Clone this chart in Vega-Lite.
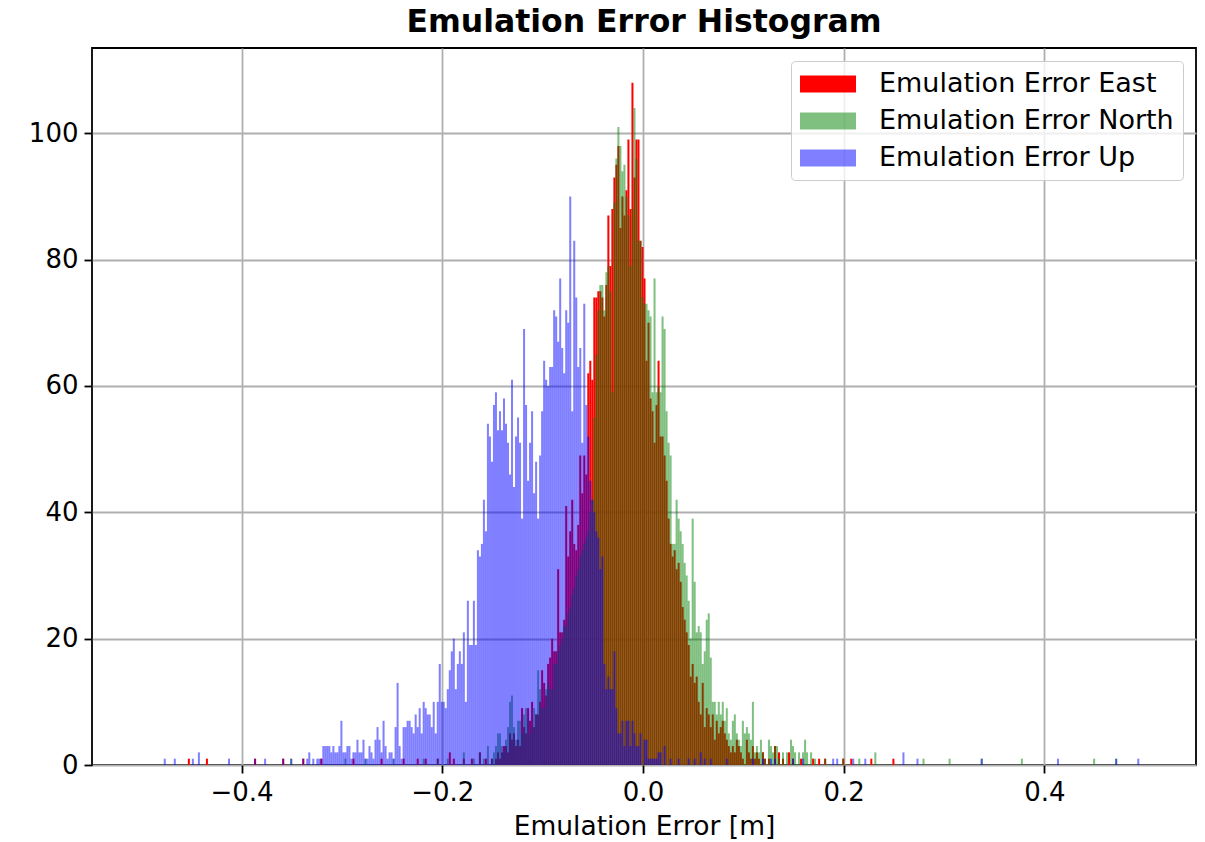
{
"$schema": "https://vega.github.io/schema/vega-lite/v6.json",
"width": 1104,
"height": 717,
"autosize": {"type": "none"},
"padding": {"left": 92, "top": 48, "right": 9, "bottom": 77},
"background": "white",
"title": {"text": "Emulation Error Histogram", "font": "DejaVu Sans", "fontSize": 31.5, "fontWeight": "bold", "color": "black", "anchor": "middle", "frame": "group", "offset": 10},
"data": {"values": [
{"series":"East","error":-0.454,"count":1},{"series":"East","error":-0.436,"count":1},{"series":"East","error":-0.388,"count":1},{"series":"East","error":-0.36,"count":1},{"series":"East","error":-0.34,"count":1},{"series":"East","error":-0.322,"count":1},{"series":"East","error":-0.29,"count":1},{"series":"East","error":-0.262,"count":1},{"series":"East","error":-0.24,"count":1},{"series":"East","error":-0.226,"count":1},{"series":"East","error":-0.218,"count":1},{"series":"East","error":-0.206,"count":1},{"series":"East","error":-0.194,"count":2},{"series":"East","error":-0.19,"count":1},{"series":"East","error":-0.18,"count":1},{"series":"East","error":-0.172,"count":1},{"series":"East","error":-0.164,"count":2},{"series":"East","error":-0.158,"count":1},
{"series":"East","error":-0.152,"count":1},{"series":"East","error":-0.148,"count":1},{"series":"East","error":-0.146,"count":2},{"series":"East","error":-0.144,"count":1},{"series":"East","error":-0.142,"count":2},{"series":"East","error":-0.14,"count":3},{"series":"East","error":-0.138,"count":3},{"series":"East","error":-0.136,"count":2},{"series":"East","error":-0.134,"count":5},{"series":"East","error":-0.132,"count":4},{"series":"East","error":-0.13,"count":5},{"series":"East","error":-0.128,"count":3},{"series":"East","error":-0.126,"count":4},{"series":"East","error":-0.124,"count":3},{"series":"East","error":-0.122,"count":9},{"series":"East","error":-0.12,"count":6},{"series":"East","error":-0.118,"count":5},{"series":"East","error":-0.116,"count":9},{"series":"East","error":-0.114,"count":7},{"series":"East","error":-0.112,"count":10},{"series":"East","error":-0.11,"count":6},{"series":"East","error":-0.108,"count":8},{"series":"East","error":-0.106,"count":8},{"series":"East","error":-0.104,"count":10},{"series":"East","error":-0.102,"count":15},{"series":"East","error":-0.1,"count":13},{"series":"East","error":-0.098,"count":11},{"series":"East","error":-0.096,"count":16},{"series":"East","error":-0.094,"count":17},{"series":"East","error":-0.092,"count":20},{"series":"East","error":-0.09,"count":18},{"series":"East","error":-0.088,"count":18},{"series":"East","error":-0.086,"count":31},{"series":"East","error":-0.084,"count":21},{"series":"East","error":-0.082,"count":21},{"series":"East","error":-0.08,"count":23},{"series":"East","error":-0.078,"count":41},{"series":"East","error":-0.076,"count":33},{"series":"East","error":-0.074,"count":37},{"series":"East","error":-0.072,"count":42},{"series":"East","error":-0.07,"count":35},{"series":"East","error":-0.068,"count":34},{"series":"East","error":-0.066,"count":38},{"series":"East","error":-0.064,"count":49},{"series":"East","error":-0.062,"count":43},{"series":"East","error":-0.06,"count":49},{"series":"East","error":-0.058,"count":46},{"series":"East","error":-0.056,"count":62},{"series":"East","error":-0.054,"count":64},{"series":"East","error":-0.052,"count":61},{"series":"East","error":-0.05,"count":74},{"series":"East","error":-0.048,"count":74},{"series":"East","error":-0.046,"count":75},{"series":"East","error":-0.044,"count":75},{"series":"East","error":-0.042,"count":74},{"series":"East","error":-0.04,"count":71},{"series":"East","error":-0.038,"count":76},{"series":"East","error":-0.036,"count":87},{"series":"East","error":-0.034,"count":79},{"series":"East","error":-0.032,"count":88},{"series":"East","error":-0.03,"count":93},{"series":"East","error":-0.028,"count":95},{"series":"East","error":-0.026,"count":98},{"series":"East","error":-0.024,"count":85},{"series":"East","error":-0.022,"count":90},{"series":"East","error":-0.02,"count":87},{"series":"East","error":-0.018,"count":91},{"series":"East","error":-0.016,"count":99},{"series":"East","error":-0.014,"count":88},{"series":"East","error":-0.012,"count":108},{"series":"East","error":-0.01,"count":93},{"series":"East","error":-0.008,"count":99},{"series":"East","error":-0.006,"count":99},{"series":"East","error":-0.004,"count":83},{"series":"East","error":-0.002,"count":82},{"series":"East","error":0,"count":77},{"series":"East","error":0.002,"count":64},{"series":"East","error":0.004,"count":70},{"series":"East","error":0.006,"count":58},{"series":"East","error":0.008,"count":56},{"series":"East","error":0.01,"count":51},{"series":"East","error":0.012,"count":57},{"series":"East","error":0.014,"count":64},{"series":"East","error":0.016,"count":52},{"series":"East","error":0.018,"count":52},{"series":"East","error":0.02,"count":49},{"series":"East","error":0.022,"count":45},{"series":"East","error":0.024,"count":39},{"series":"East","error":0.026,"count":35},{"series":"East","error":0.028,"count":33},{"series":"East","error":0.03,"count":34},{"series":"East","error":0.032,"count":31},{"series":"East","error":0.034,"count":32},{"series":"East","error":0.036,"count":29},{"series":"East","error":0.038,"count":25},{"series":"East","error":0.04,"count":23},{"series":"East","error":0.042,"count":21},{"series":"East","error":0.044,"count":19},{"series":"East","error":0.046,"count":14},{"series":"East","error":0.048,"count":16},{"series":"East","error":0.05,"count":13},{"series":"East","error":0.052,"count":14},{"series":"East","error":0.054,"count":10},{"series":"East","error":0.056,"count":8},{"series":"East","error":0.058,"count":13},{"series":"East","error":0.06,"count":6},{"series":"East","error":0.062,"count":9},{"series":"East","error":0.064,"count":8},{"series":"East","error":0.066,"count":6},{"series":"East","error":0.068,"count":8},{"series":"East","error":0.07,"count":4},{"series":"East","error":0.072,"count":7},{"series":"East","error":0.074,"count":5},{"series":"East","error":0.076,"count":6},{"series":"East","error":0.078,"count":7},{"series":"East","error":0.08,"count":5},{"series":"East","error":0.082,"count":4},{"series":"East","error":0.084,"count":3},{"series":"East","error":0.086,"count":2},{"series":"East","error":0.088,"count":3},{"series":"East","error":0.09,"count":2},{"series":"East","error":0.092,"count":4},{"series":"East","error":0.094,"count":3},{"series":"East","error":0.096,"count":2},{"series":"East","error":0.098,"count":1},{"series":"East","error":0.102,"count":4},{"series":"East","error":0.104,"count":2},{"series":"East","error":0.106,"count":1},{"series":"East","error":0.108,"count":3},{"series":"East","error":0.11,"count":1},{"series":"East","error":0.112,"count":2},{"series":"East","error":0.114,"count":1},{"series":"East","error":0.118,"count":2},{"series":"East","error":0.12,"count":1},{"series":"East","error":0.124,"count":1},{"series":"East","error":0.13,"count":3},{"series":"East","error":0.134,"count":2},{"series":"East","error":0.138,"count":1},{"series":"East","error":0.144,"count":2},{"series":"East","error":0.148,"count":1},{"series":"East","error":0.156,"count":1},{"series":"East","error":0.168,"count":1},{"series":"East","error":0.174,"count":1},{"series":"East","error":0.18,"count":1},{"series":"East","error":0.198,"count":1},{"series":"East","error":0.206,"count":1},{"series":"East","error":0.226,"count":1},{"series":"East","error":0.248,"count":1},
{"series":"North","error":-0.352,"count":1},{"series":"North","error":-0.298,"count":1},{"series":"North","error":-0.278,"count":1},{"series":"North","error":-0.25,"count":1},{"series":"North","error":-0.22,"count":1},{"series":"North","error":-0.206,"count":1},{"series":"North","error":-0.196,"count":1},{"series":"North","error":-0.18,"count":2},{"series":"North","error":-0.17,"count":1},{"series":"North","error":-0.164,"count":2},{"series":"North","error":-0.16,"count":1},{"series":"North","error":-0.156,"count":3},
{"series":"North","error":-0.152,"count":1},{"series":"North","error":-0.15,"count":2},{"series":"North","error":-0.148,"count":3},{"series":"North","error":-0.146,"count":5},{"series":"North","error":-0.144,"count":5},{"series":"North","error":-0.142,"count":3},{"series":"North","error":-0.14,"count":2},{"series":"North","error":-0.138,"count":4},{"series":"North","error":-0.136,"count":6},{"series":"North","error":-0.134,"count":10},{"series":"North","error":-0.132,"count":11},{"series":"North","error":-0.13,"count":6},{"series":"North","error":-0.128,"count":4},{"series":"North","error":-0.126,"count":7},{"series":"North","error":-0.124,"count":7},{"series":"North","error":-0.122,"count":5},{"series":"North","error":-0.12,"count":8},{"series":"North","error":-0.118,"count":9},{"series":"North","error":-0.116,"count":7},{"series":"North","error":-0.114,"count":5},{"series":"North","error":-0.112,"count":6},{"series":"North","error":-0.11,"count":9},{"series":"North","error":-0.108,"count":8},{"series":"North","error":-0.106,"count":15},{"series":"North","error":-0.104,"count":12},{"series":"North","error":-0.102,"count":9},{"series":"North","error":-0.1,"count":9},{"series":"North","error":-0.098,"count":12},{"series":"North","error":-0.096,"count":13},{"series":"North","error":-0.094,"count":12},{"series":"North","error":-0.092,"count":12},{"series":"North","error":-0.09,"count":16},{"series":"North","error":-0.088,"count":16},{"series":"North","error":-0.086,"count":18},{"series":"North","error":-0.084,"count":19},{"series":"North","error":-0.082,"count":20},{"series":"North","error":-0.08,"count":22},{"series":"North","error":-0.078,"count":22},{"series":"North","error":-0.076,"count":24},{"series":"North","error":-0.074,"count":25},{"series":"North","error":-0.072,"count":27},{"series":"North","error":-0.07,"count":28},{"series":"North","error":-0.068,"count":30},{"series":"North","error":-0.066,"count":31},{"series":"North","error":-0.064,"count":33},{"series":"North","error":-0.062,"count":34},{"series":"North","error":-0.06,"count":35},{"series":"North","error":-0.058,"count":36},{"series":"North","error":-0.056,"count":37},{"series":"North","error":-0.054,"count":40},{"series":"North","error":-0.052,"count":42},{"series":"North","error":-0.05,"count":55},{"series":"North","error":-0.048,"count":65},{"series":"North","error":-0.046,"count":72},{"series":"North","error":-0.044,"count":76},{"series":"North","error":-0.042,"count":76},{"series":"North","error":-0.04,"count":72},{"series":"North","error":-0.038,"count":78},{"series":"North","error":-0.036,"count":79},{"series":"North","error":-0.034,"count":75},{"series":"North","error":-0.032,"count":59},{"series":"North","error":-0.03,"count":89},{"series":"North","error":-0.028,"count":96},{"series":"North","error":-0.026,"count":101},{"series":"North","error":-0.024,"count":98},{"series":"North","error":-0.022,"count":94},{"series":"North","error":-0.02,"count":95},{"series":"North","error":-0.018,"count":90},{"series":"North","error":-0.016,"count":87},{"series":"North","error":-0.014,"count":79},{"series":"North","error":-0.012,"count":88},{"series":"North","error":-0.01,"count":104},{"series":"North","error":-0.008,"count":96},{"series":"North","error":-0.006,"count":83},{"series":"North","error":-0.004,"count":83},{"series":"North","error":-0.002,"count":74},{"series":"North","error":0,"count":73},{"series":"North","error":0.002,"count":73},{"series":"North","error":0.004,"count":72},{"series":"North","error":0.006,"count":71},{"series":"North","error":0.008,"count":59},{"series":"North","error":0.01,"count":77},{"series":"North","error":0.012,"count":59},{"series":"North","error":0.014,"count":60},{"series":"North","error":0.016,"count":59},{"series":"North","error":0.018,"count":71},{"series":"North","error":0.02,"count":69},{"series":"North","error":0.022,"count":56},{"series":"North","error":0.024,"count":51},{"series":"North","error":0.026,"count":49},{"series":"North","error":0.028,"count":35},{"series":"North","error":0.03,"count":35},{"series":"North","error":0.032,"count":42},{"series":"North","error":0.034,"count":39},{"series":"North","error":0.036,"count":37},{"series":"North","error":0.038,"count":35},{"series":"North","error":0.04,"count":32},{"series":"North","error":0.042,"count":30},{"series":"North","error":0.044,"count":26},{"series":"North","error":0.046,"count":20},{"series":"North","error":0.048,"count":39},{"series":"North","error":0.05,"count":29},{"series":"North","error":0.052,"count":21},{"series":"North","error":0.054,"count":22},{"series":"North","error":0.056,"count":21},{"series":"North","error":0.058,"count":16},{"series":"North","error":0.06,"count":18},{"series":"North","error":0.062,"count":23},{"series":"North","error":0.064,"count":24},{"series":"North","error":0.066,"count":17},{"series":"North","error":0.068,"count":10},{"series":"North","error":0.07,"count":10},{"series":"North","error":0.072,"count":8},{"series":"North","error":0.074,"count":10},{"series":"North","error":0.076,"count":8},{"series":"North","error":0.078,"count":10},{"series":"North","error":0.08,"count":7},{"series":"North","error":0.082,"count":9},{"series":"North","error":0.084,"count":5},{"series":"North","error":0.086,"count":4},{"series":"North","error":0.088,"count":7},{"series":"North","error":0.09,"count":8},{"series":"North","error":0.092,"count":5},{"series":"North","error":0.094,"count":4},{"series":"North","error":0.096,"count":3},{"series":"North","error":0.098,"count":7},{"series":"North","error":0.1,"count":5},{"series":"North","error":0.102,"count":6},{"series":"North","error":0.104,"count":5},{"series":"North","error":0.106,"count":4},{"series":"North","error":0.108,"count":10},{"series":"North","error":0.11,"count":2},{"series":"North","error":0.112,"count":3},{"series":"North","error":0.114,"count":2},{"series":"North","error":0.116,"count":4},{"series":"North","error":0.118,"count":2},{"series":"North","error":0.12,"count":1},{"series":"North","error":0.124,"count":4},{"series":"North","error":0.126,"count":3},{"series":"North","error":0.128,"count":2},{"series":"North","error":0.13,"count":3},{"series":"North","error":0.132,"count":3},{"series":"North","error":0.134,"count":1},{"series":"North","error":0.138,"count":2},{"series":"North","error":0.142,"count":2},{"series":"North","error":0.146,"count":4},{"series":"North","error":0.148,"count":3},{"series":"North","error":0.15,"count":2},{"series":"North","error":0.154,"count":2},{"series":"North","error":0.158,"count":2},{"series":"North","error":0.16,"count":4},{"series":"North","error":0.162,"count":2},{"series":"North","error":0.166,"count":2},{"series":"North","error":0.17,"count":1},{"series":"North","error":0.18,"count":1},{"series":"North","error":0.198,"count":1},{"series":"North","error":0.214,"count":1},{"series":"North","error":0.23,"count":2},{"series":"North","error":0.278,"count":1},{"series":"North","error":0.304,"count":1},{"series":"North","error":0.336,"count":1},{"series":"North","error":0.376,"count":1},{"series":"North","error":0.448,"count":1},{"series":"North","error":0.47,"count":1},
{"series":"Up","error":-0.478,"count":1},{"series":"Up","error":-0.468,"count":1},{"series":"Up","error":-0.45,"count":1},{"series":"Up","error":-0.444,"count":2},{"series":"Up","error":-0.414,"count":1},{"series":"Up","error":-0.388,"count":1},{"series":"Up","error":-0.378,"count":1},{"series":"Up","error":-0.36,"count":1},{"series":"Up","error":-0.352,"count":1},{"series":"Up","error":-0.34,"count":1},{"series":"Up","error":-0.336,"count":1},{"series":"Up","error":-0.334,"count":2},{"series":"Up","error":-0.33,"count":1},{"series":"Up","error":-0.326,"count":1},{"series":"Up","error":-0.324,"count":1},
{"series":"Up","error":-0.322,"count":1},{"series":"Up","error":-0.32,"count":3},{"series":"Up","error":-0.318,"count":3},{"series":"Up","error":-0.316,"count":3},{"series":"Up","error":-0.314,"count":3},{"series":"Up","error":-0.312,"count":2},{"series":"Up","error":-0.31,"count":3},{"series":"Up","error":-0.308,"count":2},{"series":"Up","error":-0.306,"count":2},{"series":"Up","error":-0.304,"count":3},{"series":"Up","error":-0.302,"count":7},{"series":"Up","error":-0.3,"count":2},{"series":"Up","error":-0.298,"count":2},{"series":"Up","error":-0.296,"count":3},{"series":"Up","error":-0.294,"count":3},{"series":"Up","error":-0.292,"count":1},{"series":"Up","error":-0.29,"count":2},{"series":"Up","error":-0.288,"count":2},{"series":"Up","error":-0.286,"count":4},{"series":"Up","error":-0.284,"count":2},{"series":"Up","error":-0.282,"count":2},{"series":"Up","error":-0.28,"count":4},{"series":"Up","error":-0.278,"count":1},{"series":"Up","error":-0.276,"count":1},{"series":"Up","error":-0.274,"count":3},{"series":"Up","error":-0.272,"count":2},{"series":"Up","error":-0.27,"count":1},{"series":"Up","error":-0.268,"count":4},{"series":"Up","error":-0.266,"count":6},{"series":"Up","error":-0.264,"count":4},{"series":"Up","error":-0.262,"count":2},{"series":"Up","error":-0.26,"count":7},{"series":"Up","error":-0.258,"count":3},{"series":"Up","error":-0.256,"count":1},{"series":"Up","error":-0.254,"count":2},{"series":"Up","error":-0.252,"count":2},{"series":"Up","error":-0.25,"count":1},{"series":"Up","error":-0.248,"count":6},{"series":"Up","error":-0.246,"count":13},{"series":"Up","error":-0.244,"count":3},{"series":"Up","error":-0.242,"count":1},{"series":"Up","error":-0.24,"count":6},{"series":"Up","error":-0.238,"count":6},{"series":"Up","error":-0.236,"count":7},{"series":"Up","error":-0.234,"count":7},{"series":"Up","error":-0.232,"count":6},{"series":"Up","error":-0.23,"count":5},{"series":"Up","error":-0.228,"count":8},{"series":"Up","error":-0.226,"count":6},{"series":"Up","error":-0.224,"count":9},{"series":"Up","error":-0.222,"count":5},{"series":"Up","error":-0.22,"count":10},{"series":"Up","error":-0.218,"count":9},{"series":"Up","error":-0.216,"count":8},{"series":"Up","error":-0.214,"count":8},{"series":"Up","error":-0.212,"count":6},{"series":"Up","error":-0.21,"count":10},{"series":"Up","error":-0.208,"count":5},{"series":"Up","error":-0.206,"count":10},{"series":"Up","error":-0.204,"count":16},{"series":"Up","error":-0.202,"count":10},{"series":"Up","error":-0.2,"count":10},{"series":"Up","error":-0.198,"count":9},{"series":"Up","error":-0.196,"count":12},{"series":"Up","error":-0.194,"count":15},{"series":"Up","error":-0.192,"count":18},{"series":"Up","error":-0.19,"count":20},{"series":"Up","error":-0.188,"count":12},{"series":"Up","error":-0.186,"count":16},{"series":"Up","error":-0.184,"count":18},{"series":"Up","error":-0.182,"count":16},{"series":"Up","error":-0.18,"count":21},{"series":"Up","error":-0.178,"count":10},{"series":"Up","error":-0.176,"count":26},{"series":"Up","error":-0.174,"count":19},{"series":"Up","error":-0.172,"count":19},{"series":"Up","error":-0.17,"count":26},{"series":"Up","error":-0.168,"count":19},{"series":"Up","error":-0.166,"count":34},{"series":"Up","error":-0.164,"count":33},{"series":"Up","error":-0.162,"count":35},{"series":"Up","error":-0.16,"count":42},{"series":"Up","error":-0.158,"count":37},{"series":"Up","error":-0.156,"count":54},{"series":"Up","error":-0.154,"count":52},{"series":"Up","error":-0.152,"count":48},{"series":"Up","error":-0.15,"count":57},{"series":"Up","error":-0.148,"count":59},{"series":"Up","error":-0.146,"count":53},{"series":"Up","error":-0.144,"count":56},{"series":"Up","error":-0.142,"count":53},{"series":"Up","error":-0.14,"count":58},{"series":"Up","error":-0.138,"count":54},{"series":"Up","error":-0.136,"count":51},{"series":"Up","error":-0.134,"count":46},{"series":"Up","error":-0.132,"count":61},{"series":"Up","error":-0.13,"count":44},{"series":"Up","error":-0.128,"count":52},{"series":"Up","error":-0.126,"count":55},{"series":"Up","error":-0.124,"count":51},{"series":"Up","error":-0.122,"count":39},{"series":"Up","error":-0.12,"count":69},{"series":"Up","error":-0.118,"count":57},{"series":"Up","error":-0.116,"count":45},{"series":"Up","error":-0.114,"count":51},{"series":"Up","error":-0.112,"count":56},{"series":"Up","error":-0.11,"count":43},{"series":"Up","error":-0.108,"count":48},{"series":"Up","error":-0.106,"count":39},{"series":"Up","error":-0.104,"count":49},{"series":"Up","error":-0.102,"count":56},{"series":"Up","error":-0.1,"count":64},{"series":"Up","error":-0.098,"count":61},{"series":"Up","error":-0.096,"count":60},{"series":"Up","error":-0.094,"count":63},{"series":"Up","error":-0.092,"count":63},{"series":"Up","error":-0.09,"count":72},{"series":"Up","error":-0.088,"count":71},{"series":"Up","error":-0.086,"count":67},{"series":"Up","error":-0.084,"count":77},{"series":"Up","error":-0.082,"count":66},{"series":"Up","error":-0.08,"count":62},{"series":"Up","error":-0.078,"count":72},{"series":"Up","error":-0.076,"count":70},{"series":"Up","error":-0.074,"count":90},{"series":"Up","error":-0.072,"count":56},{"series":"Up","error":-0.07,"count":83},{"series":"Up","error":-0.068,"count":74},{"series":"Up","error":-0.066,"count":63},{"series":"Up","error":-0.064,"count":66},{"series":"Up","error":-0.062,"count":51},{"series":"Up","error":-0.06,"count":73},{"series":"Up","error":-0.058,"count":57},{"series":"Up","error":-0.056,"count":52},{"series":"Up","error":-0.054,"count":45},{"series":"Up","error":-0.052,"count":42},{"series":"Up","error":-0.05,"count":40},{"series":"Up","error":-0.048,"count":37},{"series":"Up","error":-0.046,"count":36},{"series":"Up","error":-0.044,"count":31},{"series":"Up","error":-0.042,"count":33},{"series":"Up","error":-0.04,"count":16},{"series":"Up","error":-0.038,"count":12},{"series":"Up","error":-0.036,"count":14},{"series":"Up","error":-0.034,"count":12},{"series":"Up","error":-0.032,"count":12},{"series":"Up","error":-0.03,"count":18},{"series":"Up","error":-0.028,"count":9},{"series":"Up","error":-0.026,"count":5},{"series":"Up","error":-0.024,"count":5},{"series":"Up","error":-0.022,"count":7},{"series":"Up","error":-0.02,"count":3},{"series":"Up","error":-0.018,"count":7},{"series":"Up","error":-0.016,"count":7},{"series":"Up","error":-0.014,"count":3},{"series":"Up","error":-0.012,"count":7},{"series":"Up","error":-0.01,"count":5},{"series":"Up","error":-0.008,"count":3},{"series":"Up","error":-0.006,"count":3},{"series":"Up","error":-0.004,"count":5},{"series":"Up","error":0,"count":4},{"series":"Up","error":0.002,"count":4},{"series":"Up","error":0.004,"count":1},{"series":"Up","error":0.006,"count":1},{"series":"Up","error":0.008,"count":1},{"series":"Up","error":0.01,"count":1},{"series":"Up","error":0.012,"count":1},{"series":"Up","error":0.014,"count":2},{"series":"Up","error":0.016,"count":2},{"series":"Up","error":0.02,"count":3},{"series":"Up","error":0.026,"count":1},{"series":"Up","error":0.034,"count":1},{"series":"Up","error":0.044,"count":1},{"series":"Up","error":0.05,"count":1},{"series":"Up","error":0.056,"count":2},{"series":"Up","error":0.06,"count":1},{"series":"Up","error":0.066,"count":1},{"series":"Up","error":0.082,"count":1},{"series":"Up","error":0.108,"count":1},{"series":"Up","error":0.118,"count":1},{"series":"Up","error":0.126,"count":1},{"series":"Up","error":0.13,"count":1},{"series":"Up","error":0.148,"count":1},{"series":"Up","error":0.158,"count":1},{"series":"Up","error":0.188,"count":1},{"series":"Up","error":0.192,"count":1},{"series":"Up","error":0.208,"count":1},{"series":"Up","error":0.22,"count":1},{"series":"Up","error":0.258,"count":2},{"series":"Up","error":0.272,"count":1},{"series":"Up","error":0.336,"count":1},{"series":"Up","error":0.412,"count":1},{"series":"Up","error":0.47,"count":1},{"series":"Up","error":0.492,"count":1}
]},
"mark": {"type": "bar", "binSpacing": 0, "strokeWidth": 0},
"encoding": {
  "x": {"field": "error", "type": "quantitative", "bin": {"binned": true, "step": 0.002},
        "scale": {"domain": [-0.549, 0.551], "nice": false, "zero": false},
        "axis": {"title": "Emulation Error [m]", "values": [-0.4, -0.2, 0, 0.2, 0.4], "format": ".1f", "titlePadding": 8, "labelFlush": false}},
  "y": {"field": "count", "type": "quantitative", "stack": null,
        "scale": {"domain": [0, 113.5], "nice": false},
        "axis": {"title": null, "values": [0, 20, 40, 60, 80, 100], "format": "d"}},
  "color": {"field": "series", "type": "nominal",
        "scale": {"domain": ["East", "North", "Up"], "range": ["#ff0000", "#008000", "#0000ff"]},
        "legend": {"title": null, "labelExpr": "'Emulation Error ' + datum.label"}},
  "opacity": {"field": "series", "type": "nominal",
        "scale": {"type": "ordinal", "domain": ["East", "North", "Up"], "range": [1, 0.5, 0.5]},
        "legend": {"title": null, "labelExpr": "'Emulation Error ' + datum.label"}}
},
"config": {
  "font": "DejaVu Sans",
  "view": {"stroke": "black", "strokeWidth": 1.8},
  "axis": {"labelFont": "DejaVu Sans", "labelFontSize": 26, "labelColor": "black", "titleFont": "DejaVu Sans", "titleFontSize": 26.5, "titleFontWeight": "normal", "titleColor": "black", "tickColor": "black", "tickSize": 8, "tickWidth": 1.8, "domain": false, "grid": true, "gridColor": "#b0b0b0", "gridWidth": 1.8, "zindex": 1, "labelPadding": 6},
  "legend": {"orient": "top-right", "offset": 13, "padding": 9, "strokeColor": "#cccccc", "fillColor": "rgba(255,255,255,0.8)", "cornerRadius": 4, "symbolType": "M-2,-0.6H2V0.6H-2Z", "symbolSize": 784, "symbolOffset": 14, "symbolStrokeWidth": 0, "labelFont": "DejaVu Sans", "labelFontSize": 27, "labelColor": "black", "labelOffset": 37, "rowPadding": 10, "labelLimit": 400}
}
}
